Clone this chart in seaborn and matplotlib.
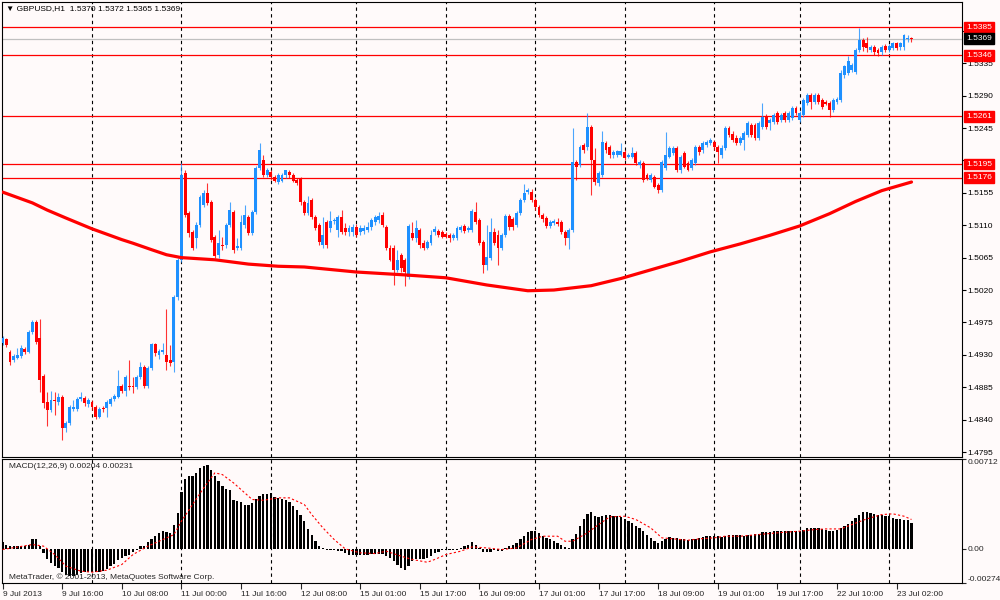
import numpy as np
import matplotlib
matplotlib.use('Agg')
import matplotlib.pyplot as plt
import pandas as pd
import seaborn as sns

# ---------------- data ----------------
symbol_title = "\u25BC GBPUSD,H1  1.5370 1.5372 1.5365 1.5369"
macd_title = "MACD(12,26,9) 0.00204 0.00231"
copyright_text = "MetaTrader, \u00A9 2001-2013, MetaQuotes Software Corp."

opens = [
 1.4946,1.4952,1.4934,1.4923,1.4926,1.4928,1.4938,1.4934,1.4962,1.4976,
 1.4953,1.4901,1.4864,1.4853,1.4867,1.4864,1.4871,1.4828,1.4835,1.4855,
 1.4855,1.4869,1.4870,1.4862,1.4864,1.4858,1.4844,1.4856,1.4856,1.4862,
 1.4869,1.4871,1.4887,1.4880,1.4887,1.4887,1.4885,1.4899,1.4913,1.4887,
 1.4912,1.4945,1.4930,1.4934,1.4930,1.4923,1.4920,1.5010,1.5062,1.5183,
 1.5127,1.5101,1.5092,1.5110,1.5138,1.5155,1.5142,1.5094,1.5069,1.5082,
 1.5082,1.5110,1.5128,1.5078,1.5079,1.5110,1.5121,1.5099,1.5128,1.5189,
 1.5201,1.5180,1.5184,1.5177,1.5170,1.5172,1.5180,1.5184,1.5180,1.5173,
 1.5174,1.5142,1.5127,1.5145,1.5121,1.5110,1.5082,1.5114,1.5106,1.5116,
 1.5103,1.5121,1.5106,1.5101,1.5101,1.5107,1.5101,1.5102,1.5104,1.5107,
 1.5114,1.5117,1.5124,1.5107,1.5079,1.5079,1.5048,1.5069,1.5062,1.5038,
 1.5099,1.5092,1.5103,1.5085,1.5079,1.5085,1.5101,1.5102,1.5101,1.5098,
 1.5096,1.5092,1.5092,1.5103,1.5109,1.5103,1.5103,1.5128,1.5117,1.5086,
 1.5055,1.5065,1.5101,1.5096,1.5078,1.5096,1.5123,1.5119,1.5110,1.5127,
 1.5145,1.5156,1.5156,1.5145,1.5135,1.5124,1.5120,1.5109,1.5113,1.5114,
 1.5114,1.5101,1.5092,1.5103,1.5198,1.5194,1.5221,1.5218,1.5246,1.5201,
 1.5169,1.5180,1.5224,1.5218,1.5207,1.5207,1.5208,1.5211,1.5205,1.5205,
 1.5210,1.5194,1.5196,1.5180,1.5173,1.5177,1.5166,1.5159,1.5189,1.5205,
 1.5210,1.5217,1.5187,1.5210,1.5196,1.5189,1.5196,1.5218,1.5214,1.5221,
 1.5224,1.5225,1.5218,1.5207,1.5217,1.5245,1.5236,1.5231,1.5224,1.5228,
 1.5235,1.5249,1.5249,1.5231,1.5246,1.5261,1.5252,1.5253,1.5266,1.5256,
 1.5266,1.5256,1.5259,1.5273,1.5256,1.5263,1.5280,1.5291,1.5281,1.5291,
 1.5284,1.5281,1.5280,1.5270,1.5281,1.5284,1.5318,1.5321,1.5326,1.5323,
 1.5353,1.5367,1.5363,1.5353,1.5357,1.5353,1.5350,1.5359,1.5353,1.5356,
 1.5363,1.5357,1.5357,1.5368,1.5370]
highs = [
 1.4956,1.4953,1.4937,1.4931,1.4940,1.4944,1.4941,1.4965,1.4978,1.4978,
 1.4980,1.4903,1.4878,1.4880,1.4878,1.4877,1.4874,1.4838,1.4860,1.4867,
 1.4871,1.4878,1.4873,1.4870,1.4867,1.4860,1.4858,1.4859,1.4867,1.4871,
 1.4876,1.4909,1.4889,1.4902,1.4923,1.4899,1.4902,1.4920,1.4916,1.4914,
 1.4946,1.4946,1.4938,1.4946,1.4994,1.4944,1.5013,1.5065,1.5196,1.5186,
 1.5130,1.5103,1.5114,1.5152,1.5159,1.5169,1.5145,1.5096,1.5103,1.5094,
 1.5113,1.5142,1.5131,1.5092,1.5124,1.5138,1.5124,1.5131,1.5192,1.5224,
 1.5207,1.5189,1.5187,1.5180,1.5183,1.5183,1.5187,1.5186,1.5183,1.5176,
 1.5177,1.5145,1.5150,1.5148,1.5124,1.5113,1.5121,1.5117,1.5130,1.5120,
 1.5124,1.5131,1.5113,1.5110,1.5111,1.5111,1.5110,1.5110,1.5114,1.5120,
 1.5124,1.5128,1.5128,1.5110,1.5082,1.5082,1.5076,1.5072,1.5065,1.5111,
 1.5114,1.5117,1.5106,1.5089,1.5089,1.5103,1.5109,1.5105,1.5103,1.5101,
 1.5099,1.5099,1.5109,1.5110,1.5111,1.5109,1.5132,1.5142,1.5120,1.5089,
 1.5110,1.5120,1.5106,1.5103,1.5099,1.5125,1.5125,1.5121,1.5130,1.5148,
 1.5167,1.5162,1.5160,1.5148,1.5138,1.5127,1.5123,1.5117,1.5119,1.5120,
 1.5117,1.5103,1.5106,1.5245,1.5201,1.5221,1.5224,1.5266,1.5249,1.5217,
 1.5185,1.5241,1.5227,1.5221,1.5214,1.5215,1.5224,1.5214,1.5210,1.5218,
 1.5213,1.5201,1.5199,1.5183,1.5183,1.5180,1.5169,1.5201,1.5239,1.5220,
 1.5220,1.5220,1.5207,1.5213,1.5199,1.5203,1.5221,1.5221,1.5227,1.5228,
 1.5231,1.5228,1.5221,1.5221,1.5248,1.5248,1.5241,1.5235,1.5234,1.5241,
 1.5255,1.5252,1.5252,1.5255,1.5280,1.5264,1.5259,1.5266,1.5268,1.5266,
 1.5268,1.5268,1.5275,1.5275,1.5268,1.5287,1.5294,1.5294,1.5294,1.5294,
 1.5287,1.5284,1.5282,1.5287,1.5288,1.5325,1.5333,1.5345,1.5335,1.5356,
 1.5384,1.5370,1.5371,1.5360,1.5360,1.5356,1.5360,1.5361,1.5361,1.5364,
 1.5364,1.5364,1.5375,1.5374,1.5372]
lows = [
 1.4944,1.4941,1.4916,1.4920,1.4924,1.4926,1.4931,1.4933,1.4959,1.4945,
 1.4878,1.4856,1.4831,1.4851,1.4846,1.4860,1.4812,1.4823,1.4833,1.4852,
 1.4852,1.4866,1.4859,1.4858,1.4853,1.4841,1.4842,1.4851,1.4844,1.4859,
 1.4866,1.4870,1.4877,1.4873,1.4881,1.4877,1.4882,1.4896,1.4884,1.4884,
 1.4909,1.4928,1.4924,1.4931,1.4909,1.4914,1.4906,1.5006,1.5059,1.5121,
 1.5094,1.5076,1.5078,1.5108,1.5135,1.5138,1.5087,1.5065,1.5064,1.5076,
 1.5079,1.5108,1.5072,1.5076,1.5076,1.5106,1.5096,1.5096,1.5125,1.5187,
 1.5177,1.5177,1.5173,1.5170,1.5167,1.5170,1.5176,1.5176,1.5170,1.5166,
 1.5138,1.5124,1.5124,1.5119,1.5103,1.5082,1.5079,1.5079,1.5101,1.5111,
 1.5094,1.5098,1.5096,1.5095,1.5095,1.5094,1.5096,1.5098,1.5101,1.5104,
 1.5110,1.5113,1.5108,1.5076,1.5060,1.5027,1.5045,1.5045,1.5026,1.5035,
 1.5089,1.5087,1.5078,1.5076,1.5077,1.5082,1.5096,1.5094,1.5092,1.5092,
 1.5087,1.5089,1.5089,1.5101,1.5099,1.5101,1.5101,1.5111,1.5082,1.5044,
 1.5048,1.5062,1.5082,1.5055,1.5076,1.5094,1.5104,1.5104,1.5107,1.5124,
 1.5142,1.5153,1.5142,1.5131,1.5121,1.5114,1.5106,1.5106,1.5110,1.5109,
 1.5098,1.5082,1.5077,1.5101,1.5173,1.5191,1.5210,1.5215,1.5152,1.5166,
 1.5165,1.5177,1.5210,1.5203,1.5204,1.5205,1.5206,1.5201,1.5204,1.5204,
 1.5194,1.5189,1.5170,1.5173,1.5170,1.5162,1.5155,1.5156,1.5187,1.5204,
 1.5207,1.5184,1.5183,1.5189,1.5185,1.5187,1.5194,1.5208,1.5210,1.5218,
 1.5221,1.5214,1.5196,1.5204,1.5214,1.5232,1.5225,1.5222,1.5221,1.5214,
 1.5232,1.5232,1.5228,1.5228,1.5243,1.5243,1.5242,1.5250,1.5250,1.5253,
 1.5253,1.5253,1.5256,1.5263,1.5253,1.5260,1.5277,1.5272,1.5279,1.5279,
 1.5271,1.5277,1.5260,1.5267,1.5279,1.5281,1.5315,1.5318,1.5323,1.5320,
 1.5350,1.5352,1.5350,1.5350,1.5347,1.5345,1.5347,1.5350,1.5350,1.5353,
 1.5353,1.5354,1.5354,1.5365,1.5365]
closes = [
 1.4953,1.4944,1.4920,1.4928,1.4930,1.4940,1.4934,1.4962,1.4976,1.4948,
 1.4895,1.4863,1.4853,1.4867,1.4866,1.4871,1.4828,1.4835,1.4858,1.4858,
 1.4869,1.4871,1.4863,1.4867,1.4858,1.4844,1.4855,1.4855,1.4864,1.4869,
 1.4873,1.4887,1.4880,1.4899,1.4885,1.4885,1.4899,1.4913,1.4887,1.4912,
 1.4945,1.4933,1.4935,1.4937,1.4920,1.4919,1.5010,1.5062,1.5180,1.5124,
 1.5099,1.5078,1.5110,1.5149,1.5155,1.5141,1.5089,1.5067,1.5085,1.5081,
 1.5110,1.5131,1.5076,1.5081,1.5114,1.5124,1.5099,1.5128,1.5189,1.5214,
 1.5180,1.5186,1.5177,1.5172,1.5180,1.5180,1.5186,1.5180,1.5172,1.5169,
 1.5142,1.5127,1.5141,1.5121,1.5106,1.5087,1.5096,1.5082,1.5116,1.5117,
 1.5121,1.5101,1.5101,1.5106,1.5107,1.5096,1.5106,1.5106,1.5107,1.5117,
 1.5121,1.5123,1.5110,1.5079,1.5062,1.5048,1.5062,1.5051,1.5045,1.5109,
 1.5092,1.5106,1.5082,1.5079,1.5086,1.5096,1.5105,1.5096,1.5094,1.5094,
 1.5092,1.5096,1.5106,1.5107,1.5102,1.5106,1.5130,1.5114,1.5085,1.5055,
 1.5066,1.5101,1.5085,1.5078,1.5096,1.5123,1.5107,1.5107,1.5127,1.5145,
 1.5155,1.5159,1.5145,1.5135,1.5124,1.5119,1.5109,1.5114,1.5116,1.5111,
 1.5101,1.5092,1.5103,1.5198,1.5191,1.5218,1.5214,1.5246,1.5201,1.5170,
 1.5182,1.5225,1.5214,1.5207,1.5211,1.5213,1.5213,1.5203,1.5207,1.5210,
 1.5196,1.5198,1.5173,1.5176,1.5180,1.5163,1.5159,1.5198,1.5207,1.5217,
 1.5217,1.5187,1.5205,1.5191,1.5187,1.5201,1.5218,1.5211,1.5224,1.5225,
 1.5228,1.5218,1.5211,1.5217,1.5245,1.5235,1.5228,1.5224,1.5231,1.5238,
 1.5252,1.5235,1.5231,1.5252,1.5260,1.5246,1.5256,1.5263,1.5253,1.5263,
 1.5256,1.5266,1.5273,1.5266,1.5266,1.5284,1.5291,1.5281,1.5291,1.5281,
 1.5274,1.5278,1.5270,1.5284,1.5285,1.5322,1.5331,1.5338,1.5332,1.5353,
 1.5367,1.5357,1.5356,1.5357,1.5350,1.5349,1.5357,1.5353,1.5359,1.5363,
 1.5356,1.5363,1.5374,1.5370,1.5369]

# 200-period moving average, read at these bars
ma_bar = [0, 8, 12, 17, 24, 32, 35, 40, 44, 48, 57, 66, 74, 81, 95, 108, 119,
          130, 141, 148, 158, 166, 174, 182, 190, 198, 206, 214, 222, 229, 236, 244]
ma_val = [1.5156, 1.5141, 1.5131, 1.5120, 1.5105, 1.5090, 1.5085, 1.5076,
          1.5069, 1.5065, 1.5062, 1.5056, 1.5053, 1.5052, 1.5045, 1.5041,
          1.5037, 1.5027, 1.5019, 1.5020, 1.5026, 1.5036, 1.5048, 1.5060,
          1.5073, 1.5084, 1.5096, 1.5109, 1.5126, 1.5143, 1.5158, 1.5170]

# MACD main (histogram), in units of 1e-5
macd_e5 = [
 50, 32, 24, 19, 19, 24, 24, 32, 77, 77,
 24, -34, -87, -114, -135, -154, -188, -207, -215, -215,
 -207, -193, -188, -188, -188, -188, -188, -180, -162, -140,
 -119, -93, -74, -61, -48, -29, -8, 19, 24, 50,
 77, 98, 125, 138, 130, 125, 191, 284, 448, 549,
 575, 575, 602, 641, 660, 668, 628, 575, 535, 496,
 474, 469, 384, 376, 368, 350, 350, 363, 395, 416,
 437, 437, 443, 411, 403, 390, 384, 368, 342, 310,
 270, 217, 156, 111, 58, 19, 2, -8, -13, -13,
 -21, -21, -34, -48, -48, -48, -48, -48, -48, -42,
 -40, -40, -40, -56, -74, -101, -127, -154, -167, -135,
 -101, -87, -87, -82, -74, -61, -34, -29, -13, -8,
 -8, -8, -8, 5, 19, 32, 50, 32, 5, -29,
 -29, -29, -8, -21, -21, 5, 24, 32, 45, 72,
 103, 130, 138, 138, 125, 98, 85, 72, 58, 45,
 32, 13, 5, 72, 119, 178, 231, 278, 289, 262,
 252, 262, 270, 270, 262, 262, 252, 231, 217, 204,
 183, 164, 138, 111, 85, 58, 45, 58, 77, 93,
 85, 80, 77, 72, 66, 72, 77, 85, 90, 98,
 103, 103, 98, 93, 98, 109, 111, 111, 109, 103,
 111, 111, 117, 119, 133, 133, 133, 138, 143, 143,
 143, 143, 143, 143, 143, 151, 164, 164, 164, 162,
 156, 151, 138, 138, 151, 164, 183, 199, 217, 244,
 270, 289, 289, 284, 278, 270, 270, 262, 257, 244,
 236, 231, 225, 225, 204]

# MACD signal line, read at these bars (units of 1e-5)
sig_bar = [0, 8, 11, 14, 17, 21, 24, 28, 32, 35, 39, 42, 46, 48, 51, 54, 57, 59,
           62, 65, 67, 70, 74, 77, 81, 83, 86, 89, 92, 96, 100, 103, 107, 110,
           114, 116, 119, 123, 126, 130, 134, 138, 142, 145, 149, 151, 153, 157,
           160, 163, 167, 170, 174, 177, 180, 184, 187, 191, 194, 198, 201, 205,
           210, 214, 218, 221, 225, 228, 232, 236, 239, 242, 244]
sig_e5 = [-8, 32, 19, -48, -140, -180, -188, -172, -127, -48, 19, 58, 111, 217,
          350, 482, 602, 588, 522, 443, 390, 384, 403, 403, 350, 270, 164, 72,
          -3, -34, -40, -21, -61, -87, -109, -87, -48, -21, 13, 5, -8, 5, 72,
          98, 98, 58, 58, 125, 191, 252, 257, 231, 164, 85, 77, 66, 77, 85, 98,
          98, 106, 117, 130, 138, 151, 156, 156, 191, 236, 270, 276, 257, 231]

# horizontal levels
red_levels = [1.5385, 1.5346, 1.5261, 1.5195, 1.5176]
bid_level = 1.5369

# time axis
day_start_bars = [24, 48, 72, 95, 119, 143, 167, 191, 214, 238]
time_label_bars = [0, 16, 32, 48, 64, 80, 96, 112, 128, 144, 160, 176, 192, 208, 224, 240]
time_labels = ["9 Jul 2013", "9 Jul 16:00", "10 Jul 08:00", "11 Jul 00:00",
               "11 Jul 16:00", "12 Jul 08:00", "15 Jul 01:00", "15 Jul 17:00",
               "16 Jul 09:00", "17 Jul 01:00", "17 Jul 17:00", "18 Jul 09:00",
               "19 Jul 01:00", "19 Jul 17:00", "22 Jul 10:00", "23 Jul 02:00"]

price_ticks = [1.4795, 1.4840, 1.4885, 1.4930, 1.4975, 1.5020, 1.5065, 1.5110,
               1.5155, 1.5200, 1.5245, 1.5290, 1.5335, 1.5380]
hidden_tick_labels = [1.5200, 1.5380]   # covered by the level boxes
price_range = (1.47881, 1.54200)
macd_range = (-0.00274, 0.00712)

# ---------------- style ----------------
sns.set_style('white')
plt.rcParams['font.family'] = ['Liberation Sans', 'DejaVu Sans']
BG = '#FFFAFA'
BULL = '#1E90FF'
BEAR = '#FF0000'
FS = 6

fig = plt.figure(figsize=(10, 6), dpi=100, facecolor=BG)
ax = fig.add_axes([0.002, 1 - 457 / 600, 0.960, 455 / 600])
axm = fig.add_axes([0.002, 1 - 583 / 600, 0.960, 124 / 600])
for a in (ax, axm):
    a.set_facecolor(BG)
    for s in a.spines.values():
        s.set_color('black')
        s.set_linewidth(0.8)
    a.set_xlim(-0.16, 257.56)
    for b in day_start_bars:
        a.axvline(b, color='black', lw=0.8, ls=(0, (3, 3)), zorder=0.5)

df = pd.DataFrame({'open': opens, 'high': highs, 'low': lows, 'close': closes})
df['bar'] = np.arange(len(df))
up = df['close'] >= df['open']
colors = np.where(up, BULL, BEAR)

# levels
for lv in red_levels:
    ax.axhline(lv, color='#FF0000', lw=0.9, zorder=1)
ax.axhline(bid_level, color='#C0C0C0', lw=0.9, zorder=1)

# candles
ax.vlines(df['bar'], df['low'], df['high'], colors=colors, lw=0.8, alpha=0.8, zorder=2)
body_bottom = np.minimum(df['open'], df['close'])
body_h = np.maximum((df['close'] - df['open']).abs(), 0.00013)
ax.bar(df['bar'], body_h, bottom=body_bottom, width=0.78, color=colors,
       linewidth=0, zorder=3)

# moving average
sns.lineplot(x=ma_bar, y=ma_val, ax=ax, color='#FF0000', lw=2.3, zorder=4)

ax.set_ylim(*price_range)
ax.set_xticks([])
ax.set_xlabel('')
ax.set_ylabel('')
ax.yaxis.tick_right()
ax.set_yticks(price_ticks)
ax.set_yticklabels(['' if v in hidden_tick_labels else f'{v:.4f}' for v in price_ticks])
ax.tick_params(axis='y', direction='out', length=3, width=0.8, labelsize=FS,
               pad=1, colors='black', right=True, left=False)

# coloured price boxes
def price_box(level, fc):
    ax.annotate(f'{level:.4f}', xy=(1, level), xycoords=('axes fraction', 'data'),
                xytext=(4, 0), textcoords='offset pixels', ha='left', va='center',
                fontsize=FS, color='white', annotation_clip=False, zorder=10,
                bbox=dict(boxstyle='square,pad=0.22', fc=fc, ec=fc))

for lv in red_levels:
    price_box(lv, '#FF0000')
price_box(bid_level, '#000000')

fig.text(6 / 1000, 1 - 9 / 600, symbol_title, fontsize=FS, va='center', ha='left',
         color='black')

# ---------------- MACD ----------------
macd = np.array(macd_e5) * 1e-5
sig = np.array(sig_e5) * 1e-5
axm.bar(df['bar'], macd, width=0.62, color='black', linewidth=0, zorder=2)
sns.lineplot(x=sig_bar, y=sig, ax=axm, color='#FF0000', lw=0.8,
             ls=(0, (2, 2)), zorder=3)
axm.set_ylim(*macd_range)
axm.set_xlabel('')
axm.set_ylabel('')
axm.yaxis.tick_right()
mt = [macd_range[1], 0.0, macd_range[0]]
axm.set_yticks(mt)
axm.set_yticklabels(['0.00712', '0.00', '-0.00274'])
axm.tick_params(axis='y', direction='out', length=3, width=0.8, labelsize=FS,
                pad=1, right=True, left=False)
labs = axm.get_yticklabels()
labs[0].set_va('top')
labs[2].set_va('bottom')

axm.set_xticks(time_label_bars)
axm.set_xticklabels(time_labels)
axm.tick_params(axis='x', direction='out', length=4, width=0.8, labelsize=FS,
                pad=1.5, bottom=True)
for lab in axm.get_xticklabels():
    lab.set_ha('left')

axm.text(7 / 960, (583 - 466) / 124, macd_title, transform=axm.transAxes,
         fontsize=FS, va='center', ha='left')
axm.text(7 / 960, (583 - 577) / 124, copyright_text, transform=axm.transAxes,
         fontsize=FS, va='center', ha='left')

fig.savefig('out.png', dpi=100, facecolor=BG)
